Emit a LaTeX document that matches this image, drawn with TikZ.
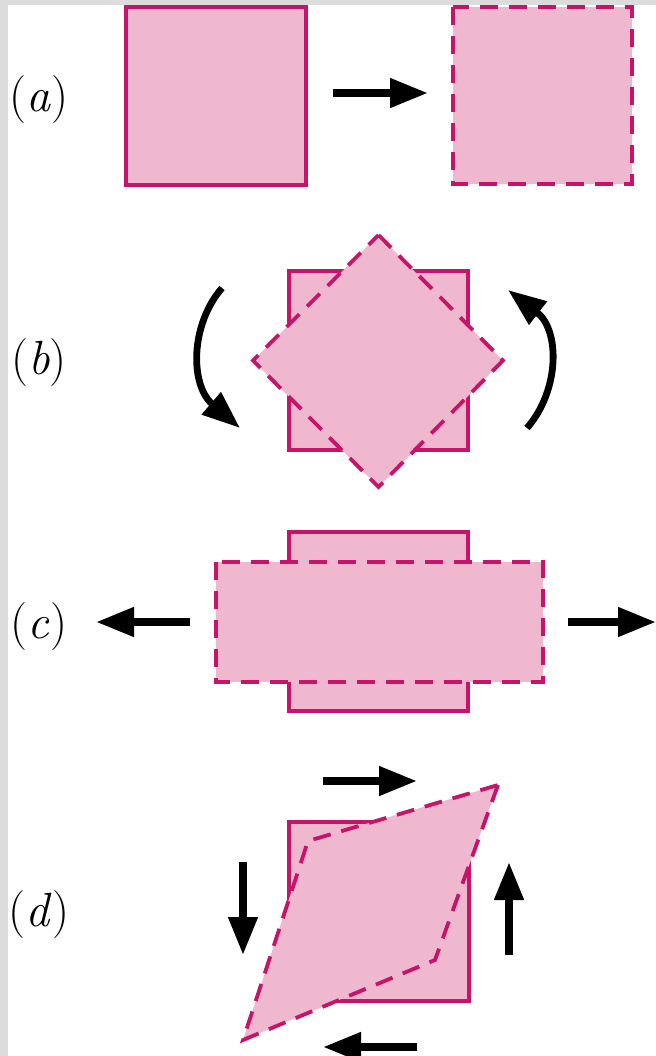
\documentclass[tikz,border=0pt]{standalone}
\usetikzlibrary{arrows.meta}
\definecolor{pinkfill}{RGB}{240,184,207}
\definecolor{magline}{RGB}{198,20,106}
\definecolor{greyedge}{RGB}{220,220,220}
\tikzset{
	solidsq/.style={draw=magline,fill=pinkfill,line width=1.6pt},
	dashsq/.style={solidsq,line width=1.9pt,dash pattern=on 9pt off 5.5pt},
	bigarrow/.style={line width=3.8pt,-{Triangle[length=19pt,width=14pt]}},
	tag/.style={font=\fontsize{24}{28}\selectfont,inner sep=0pt}
}
\begin{document}
\begin{tikzpicture}[x=0.5pt,y=-0.5pt,line join=miter]
	\fill[greyedge] (0,0) rectangle (656,1056);
	\fill[white] (8,5) rectangle (656,1056);
	\useasboundingbox (0,0) rectangle (656,1056);
	\path
	(333,93) coordinate (A1) (428,93) coordinate (A2)
	(222,288) coordinate (BL1) (240,428) coordinate (BL2)
	(527,428) coordinate (BR1) (508,290) coordinate (BR2)
	(190,622) coordinate (CL1) (96,622) coordinate (CL2)
	(568,622) coordinate (CR1) (656,622) coordinate (CR2)
	(323,781) coordinate (DT1) (417,781) coordinate (DT2)
	(243,862) coordinate (DL1) (243,955) coordinate (DL2)
	(509,955) coordinate (DR1) (509,862) coordinate (DR2)
	(417,1047) coordinate (DB1) (323,1047) coordinate (DB2)
	;
	% (a)
	\draw[solidsq] (126,7) rectangle (306,185);
	\draw[dashsq] (453,7) rectangle (632,184);
	\draw[bigarrow] (A1)--(A2);
	% (b)
	\draw[solidsq] (289,271) rectangle (468,450);
	\draw[dashsq] (378.5,235)--(503,360.5)--(378.5,487)--(253,360.5)--cycle;
	\draw[bigarrow,line width=3.4pt] (BL1) .. controls (190,325) and (190,385) .. (BL2);
	\draw[bigarrow,line width=3.4pt] (BR1) .. controls (560,390) and (560,330) .. (BR2);
	% (c)
	\draw[solidsq] (289,532) rectangle (468,711);
	\draw[dashsq] (216,562) rectangle (543,682);
	\draw[bigarrow] (CL1)--(CL2);
	\draw[bigarrow] (CR1)--(CR2);
	% (d)
	\draw[solidsq] (289,822) rectangle (469,1001);
	\draw[dashsq] (498,785)--(435,960)--(243,1040)--(308,841)--cycle;
	\foreach \p in {DT,DL,DR,DB}{
		\draw[bigarrow] (\p1)--(\p2);
	};
	\foreach \t/\y in {a/100,b/363,c/627,d/915}{
		\node[tag] (lab\t) at (39,\y) {(\textit{\t})};
	};
\end{tikzpicture}
\end{document}
